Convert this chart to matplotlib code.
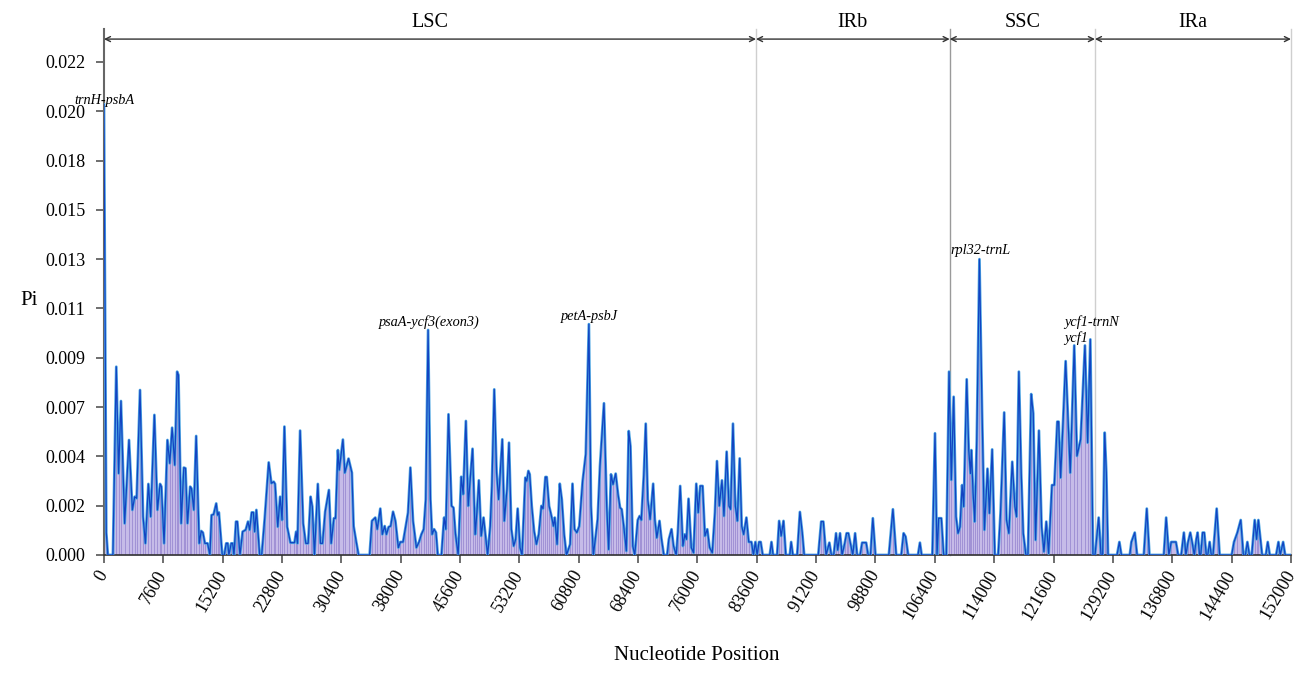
import numpy as np
import matplotlib
matplotlib.use("Agg")
import matplotlib.pyplot as plt

plt.rcParams['font.family'] = ['Liberation Serif', 'DejaVu Serif']

# sliding window nucleotide diversity (position in bp, Pi)
pos = [0, 300, 500, 1150, 1580, 1880, 2180, 2650, 3210, 3640, 3940, 4190, 4620, 5010, 5310, 5690,
       5990, 6460, 6850, 7190, 7360, 7700, 8130, 8430, 8730, 9070, 9370, 9540, 9890, 10230, 10440,
       10700, 11040, 11210, 11510, 11810, 12200, 12460, 12670, 12930, 13270, 13570, 13780, 14040,
       14380, 14550, 14720, 15150, 15410, 15660, 15850, 16000, 16300, 16480, 16650, 16910, 17080,
       17420, 17760, 18150, 18450, 18660, 18920, 19130, 19300, 19520, 19940, 20200, 20590, 21100,
       21440, 21740, 21910, 22260, 22560, 22810, 23110, 23460, 23880, 24400, 24610, 24780, 25120,
       25510, 25850, 26150, 26460, 26680, 26960, 27390, 27730, 27990, 28330, 28810, 29100, 29450,
       29660, 29960, 30130, 30600, 30850, 31320, 31750, 31970, 32310, 32610, 34020, 34320, 34750,
       35000, 35390, 35650, 35950, 36170, 36460, 36720, 37020, 37320, 37700, 37960, 38300, 38510,
       38940, 39240, 39580, 40010, 40350, 40650, 40950, 41210, 41510, 41810, 42020, 42280, 42520,
       42750, 43220, 43560, 43780, 44120, 44510, 44760, 45020, 45360, 45750, 46000, 46350, 46650,
       46900, 47200, 47540, 47760, 48010, 48310, 48610, 48910, 49130, 49470, 49680, 49980, 50280,
       50540, 51010, 51270, 51610, 51870, 52170, 52470, 52720, 52980, 53280, 53540, 53960, 54140,
       54350, 54520, 54780, 55080, 55380, 55680, 56020, 56230, 56530, 56700, 57000, 57300, 57560,
       57730, 58030, 58370, 58630, 58930, 59230, 59700, 60000, 60260, 60560, 60870, 61300, 61700,
       62100, 62370, 62670, 62920, 63220, 63520, 64030, 64380, 64630, 64930, 65190, 65530, 65830,
       66090, 66300, 66560, 66900, 67200, 67420, 67720, 67970, 68360, 68600, 68810, 69130, 69380,
       69640, 69940, 70330, 70540, 70800, 71140, 71400, 71700, 72120, 72340, 72680, 72940, 73280,
       73490, 73790, 74140, 74390, 74600, 74860, 75210, 75500, 75850, 76100, 76360, 76660, 76960,
       77260, 77560, 77900, 78240, 78500, 78800, 79140, 79400, 79740, 80040, 80250, 80550, 80850,
       81110, 81410, 81670, 81920, 82270, 82570, 82910, 83170, 83420, 83640, 83890, 84100, 84360,
       85260, 85480, 85690, 86200, 86460, 86720, 87020, 87320, 87830, 88000, 88220, 88770, 89120,
       89420, 89670, 91470, 91850, 92120, 92470, 92890, 93150, 93450, 93750, 93960, 94260, 94520,
       94860, 95100, 95330, 95590, 95890, 96190, 96450, 96830, 97090, 97600, 97860, 98160, 98460,
       98800, 100510, 101030, 101450, 102100, 102400, 102650, 102990, 104240, 104490, 104710,
       106080, 106420, 106680, 106890, 107230, 107530, 107870, 108220, 108510, 108810, 109110,
       109370, 109630, 109890, 110100, 110480, 110740, 110960, 111080, 111300, 111510, 111770,
       112110, 112450, 112750, 113140, 113390, 113740, 114080, 114510, 114810, 115280, 115580,
       115880, 116310, 116650, 116860, 117160, 117460, 117720, 118060, 118320, 118740, 119000,
       119300, 119730, 120070, 120370, 120670, 120970, 121400, 121700, 122080, 122250, 122510,
       123150, 123740, 124250, 124600, 125070, 125620, 125970, 126310, 126650, 126910, 127380,
       127680, 127890, 128150, 128360, 128580, 129730, 130030, 130290, 131360, 131570, 132000,
       132300, 133160, 133540, 133880, 135720, 136020, 136370, 136670, 137270, 137560, 137950,
       138290, 138550, 138810, 139110, 139360, 139620, 139880, 140050, 140300, 140450, 140690,
       140900, 141160, 141350, 141590, 141800, 142020, 142490, 142870, 144410, 144710, 145140,
       145570, 145910, 146170, 146420, 146680, 146980, 147360, 147600, 147830, 148310, 148780,
       149030, 149290, 150100, 150400, 150620, 151000, 151260, 152000]

pi = [0.0201, 0.0010, 0, 0, 0.0084, 0.00364, 0.00687, 0.00141, 0.00513, 0.00201, 0.00260, 0.00253,
      0.00736, 0.00171, 0.00052, 0.00317, 0.00171, 0.00625, 0.00201, 0.00317, 0.00305, 0.00052,
      0.00513, 0.00409, 0.00568, 0.00401, 0.00818, 0.00803, 0.00141, 0.00390, 0.00387, 0.00141,
      0.00305, 0.00297, 0.00201, 0.00531, 0.00052, 0.00107, 0.00100, 0.00052, 0.00052, 0, 0.00178,
      0.00181, 0.00230, 0.00178, 0.00190, 0, 0, 0.00052, 0.00052, 0, 0.00052, 0.00052, 0, 0.00149,
      0.00149, 0, 0.00104, 0.00112, 0.00149, 0.00112, 0.00190, 0.00190, 0.00104, 0.00201, 0, 0,
      0.00164, 0.00413, 0.00320, 0.00327, 0.00317, 0.00126, 0.00260, 0.00156, 0.00573, 0.00126,
      0.00055, 0.00055, 0.00104, 0.00052, 0.00555, 0.00141, 0.00052, 0.00052, 0.00260, 0.00216, 0,
      0.00317, 0.00052, 0.00052, 0.00193, 0.00290, 0.00052, 0.00164, 0.00164, 0.00468, 0.00379,
      0.00515, 0.00367, 0.00430, 0.00367, 0.00129, 0.00058, 0, 0, 0.00152, 0.00167, 0.00115,
      0.00207, 0.00092, 0.00129, 0.00092, 0.00125, 0.00129, 0.00193, 0.00152, 0.00033, 0.00058,
      0.00058, 0.00100, 0.00189, 0.00390, 0.00152, 0.00033, 0.00058, 0.00092, 0.00115, 0.00248,
      0.01004, 0.00248, 0.00092, 0.00115, 0.00100, 0, 0, 0.00167, 0.00115, 0.00628, 0.00219,
      0.00211, 0.00092, 0, 0.00349, 0.00271, 0.00598, 0.00219, 0.00338, 0.00474, 0.00092, 0.00189,
      0.00333, 0.00085, 0.00167, 0.00070, 0, 0.00129, 0.00308, 0.00739, 0.00367, 0.00248, 0.00516,
      0.00152, 0.00293, 0.00501, 0.00115, 0.00040, 0.00070, 0.00207, 0.00033, 0, 0.00345, 0.00330,
      0.00375, 0.00360, 0.00219, 0.00107, 0.00048, 0.00092, 0.00219, 0.00207, 0.00348, 0.00348,
      0.00219, 0.00174, 0.00129, 0.00167, 0.00048, 0.00318, 0.00248, 0.00092, 0, 0.00048, 0.00318,
      0.00115, 0.00100, 0.00129, 0.00330, 0.00450, 0.01030, 0.00219, 0, 0.00070, 0.00159, 0.00397,
      0.00677, 0.00219, 0.00025, 0.00360, 0.00315, 0.00363, 0.00271, 0.00211, 0.00204, 0.00129,
      0.00018, 0.00553, 0.00486, 0.00040, 0, 0.00156, 0.00174, 0.00156, 0.00355, 0.00586, 0.00248,
      0.00159, 0.00318, 0.00159, 0.00077, 0.00152, 0.00070, 0, 0, 0.00070, 0.00115, 0.00040, 0,
      0.00100, 0.00308, 0.00040, 0.00092, 0.00070, 0.00251, 0.00033, 0.00010, 0.00318, 0.00189,
      0.00308, 0.00308, 0.00085, 0.00115, 0.00033, 0.00010, 0.00189, 0.00419, 0.00219, 0.00333,
      0.00174, 0.00461, 0.00219, 0.00204, 0.00586, 0.00219, 0.00152, 0.00431, 0.00129, 0.00092,
      0.00167, 0.00058, 0.00058, 0, 0.00058, 0, 0.00058, 0.00058, 0, 0, 0.00058, 0, 0, 0.00152,
      0.00085, 0.00152, 0, 0, 0.00058, 0, 0, 0.00192, 0.00100, 0, 0, 0.00149, 0.00149, 0, 0.00055,
      0, 0, 0.00097, 0.00022, 0.00097, 0, 0.00052, 0.00097, 0.00097, 0.00052, 0, 0.00097, 0, 0,
      0.00055, 0.00055, 0, 0, 0.00164, 0, 0, 0.00204, 0, 0, 0.00097, 0.00082, 0, 0, 0.00055, 0, 0,
      0.00543, 0, 0.00164, 0.00164, 0, 0, 0.00818, 0.00335, 0.00706, 0.00171, 0.00097, 0.00126,
      0.00312, 0.00216, 0.00784, 0.00468, 0.00364, 0.00468, 0.00275, 0.00149, 0.00513, 0.01320,
      0.00632, 0.00112, 0.00385, 0.00186, 0.00471, 0, 0, 0.00186, 0.00636, 0.00156, 0.00097,
      0.00416, 0.00216, 0.00171, 0.00818, 0.00364, 0.00097, 0, 0, 0.00718, 0.00632, 0.00067,
      0.00555, 0.00126, 0.00015, 0.00149, 0.00007, 0.00312, 0.00312, 0.00595, 0.00595, 0.00345,
      0.00865, 0.00367, 0.00935, 0.00442, 0.00516, 0.00935, 0.00501, 0.00962, 0, 0, 0.00167, 0, 0,
      0.00546, 0.00367, 0, 0, 0.00058, 0, 0, 0.00058, 0.00100, 0, 0, 0.00207, 0, 0, 0.00167, 0,
      0.00058, 0.00058, 0, 0, 0.00100, 0, 0.00055, 0.00100, 0.00055, 0, 0.00070, 0.00100, 0, 0,
      0.00100, 0.00100, 0, 0, 0.00058, 0, 0, 0.00207, 0, 0, 0.00058, 0.00100, 0.00156, 0, 0,
      0.00058, 0, 0, 0.00156, 0.00070, 0.00156, 0, 0, 0.00058, 0, 0, 0.00058, 0, 0.00058, 0, 0]

regions = ['LSC', 'IRb', 'SSC', 'IRa']
bounds = [0, 83500, 108300, 126900, 152000]
bound_colors = ['#cfcfcf', '#9a9a9a', '#cfcfcf', '#cfcfcf']

hot_names = ['trnH-psbA', 'psaA-ycf3(exon3)', 'petA-psbJ', 'rpl32-trnL', 'ycf1-trnN', 'ycf1']
hot_pos = [0, 41600, 62150, 112300, 122900, 122900]
hot_y = [0.0203, 0.01041, 0.01066, 0.01358, 0.01041, 0.00967]
hot_ha = ['center', 'center', 'center', 'center', 'left', 'left']

yticks = [0.0022 * k for k in range(11)]
ylabels = ['0.000', '0.002', '0.004', '0.007', '0.009', '0.011', '0.013', '0.015', '0.018', '0.020', '0.022']
xticks = list(range(0, 152001, 7600))

x = np.array(pos)
y = np.array(pi)

fig = plt.figure(figsize=(12.96, 6.76), dpi=100)
ax = fig.add_axes([0.0802, 0.179, 0.9159, 0.7781])
ytop = 0.02347

ax.fill_between(x, 0, y, color='#c6bbe8', lw=0, zorder=1)
ax.vlines(x, 0, y, color='#9a8bd2', lw=0.6, zorder=2)
ax.plot(x, y, color='#4ea6e2', lw=2.0, zorder=3)
ax.plot(x, y, color='#1243c2', lw=0.9, zorder=4)

for b, c in zip(bounds[1:], bound_colors):
    ax.plot([b, b], [0, ytop], color=c, lw=1.0, zorder=0, clip_on=False)

ya = 0.02302
for i, name in enumerate(regions):
    ax.annotate('', xy=(bounds[i], ya), xytext=(bounds[i + 1], ya),
                arrowprops=dict(arrowstyle='<->', color='#333333', lw=1.0,
                                mutation_scale=9, shrinkA=0, shrinkB=0),
                annotation_clip=False)
    ax.text((bounds[i] + bounds[i + 1]) / 2, 0.02375, name, ha='center', va='center',
            fontsize=14.5, clip_on=False)

for name, p, v, h in zip(hot_names, hot_pos, hot_y, hot_ha):
    ax.text(p, v, name, ha=h, va='center', fontsize=10.3, style='italic', zorder=5)

ax.set_xlim(0, 152000)
ax.set_ylim(0, ytop)
ax.set_xticks(xticks)
ax.set_xticklabels([str(t) for t in xticks], rotation=60, ha='right', va='center',
                   rotation_mode='anchor', fontsize=13)
ax.set_yticks(yticks)
ax.set_yticklabels(ylabels, fontsize=13)
ax.tick_params(axis='both', direction='out', length=6, width=1.2, color='#555555')
ax.tick_params(axis='x', pad=6)
ax.tick_params(axis='y', pad=7.5)
ax.spines['top'].set_visible(False)
ax.spines['right'].set_visible(False)
ax.spines['left'].set_color('#666666')
ax.spines['left'].set_linewidth(1.5)
ax.spines['bottom'].set_color('#333333')
ax.spines['bottom'].set_linewidth(1.2)

fig.text(20 / 1296, 1 - 300 / 676, 'Pi', fontsize=15, ha='left', va='center')
fig.text(697 / 1296, 1 - 655 / 676, 'Nucleotide Position', fontsize=15, ha='center', va='center')

fig.savefig('out.png', dpi=100)
